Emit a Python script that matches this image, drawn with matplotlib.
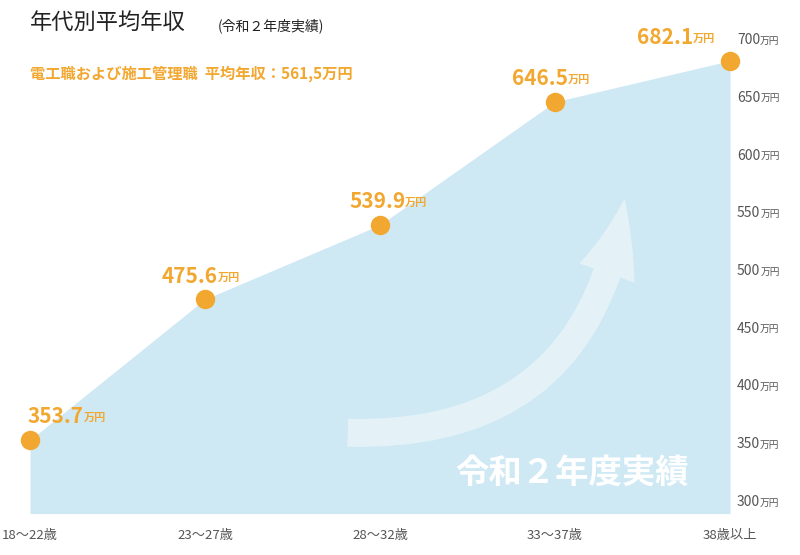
import matplotlib
matplotlib.use("Agg")
import matplotlib.pyplot as plt
from matplotlib.patches import FancyArrowPatch

plt.rcParams["font.family"] = "Noto Sans CJK JP"

categories = ["18～22歳", "23～27歳", "28～32歳", "33～37歳", "38歳以上"]
values = [353.7, 475.6, 539.9, 646.5, 682.1]
yticks = [300, 350, 400, 450, 500, 550, 600, 650, 700]
label_dx = [-2, -43, -31, -43, -93]  # pixel offsets of value labels

ORANGE = "#f2a830"
FILL = "#cfe9f4"

fig = plt.figure(figsize=(8, 5.55), dpi=100)
ax = fig.add_axes([30/800, 1-502/555, 700/800, 462/555])
x = list(range(len(values)))
ax.set_xlim(0, 4)
ax.set_ylim(300, 700)
ax.fill_between(x, values, 290, color=FILL, lw=0, clip_on=False)
ax.plot(x, values, "o", color=ORANGE, ms=14, mec="white", mew=0, clip_on=False, zorder=5)
for s in ax.spines.values():
    s.set_visible(False)
ax.set_xticks([]); ax.set_yticks([])

arrow = FancyArrowPatch((1.8, 360), (3.4, 565), connectionstyle="arc3,rad=0.45",
                        arrowstyle="simple,head_width=42,head_length=55,tail_width=20",
                        color="white", alpha=0.45, lw=0, mutation_scale=1)
ax.add_patch(arrow)
ax.text(3.1, 325, "令和２年度実績", color="white", fontsize=24, fontweight="bold",
        ha="center", va="center")

for xi, v, dx in zip(x, values, label_dx):
    t = ax.annotate(f"{v:.1f}", (xi, v), xytext=(dx*0.72, 9), textcoords="offset points",
                    color=ORANGE, fontsize=15, fontweight="bold", ha="left", va="bottom")
    ax.annotate("万円", xy=(1, 0.15), xycoords=t, color=ORANGE, fontsize=8,
                fontweight="bold", ha="left", va="bottom")

for yt in yticks:
    t = ax.annotate(str(yt), (1, yt), xycoords=("axes fraction", "data"), xytext=(5, 0),
                    textcoords="offset points", color="#555555", fontsize=10, va="center")
    ax.annotate("万円", xy=(1, 0.1), xycoords=t, color="#555555", fontsize=7, va="bottom")

for xi, c in enumerate(categories):
    ax.annotate(c, (xi, 0), xycoords=("data", "axes fraction"), xytext=(0, -24),
                textcoords="offset points", ha="center", va="center", color="#555555",
                fontsize=9.5)

fig.text(30/800, 1-22/555, "年代別平均年収", fontsize=16, va="center", color="#222222")
fig.text(218/800, 1-26/555, "(令和２年度実績)", fontsize=10, va="center", color="#222222")
fig.text(30/800, 1-74/555, "電工職および施工管理職  平均年収：561,5万円", fontsize=11,
         fontweight="bold", color=ORANGE, va="center")

fig.savefig("out.png", dpi=100)
